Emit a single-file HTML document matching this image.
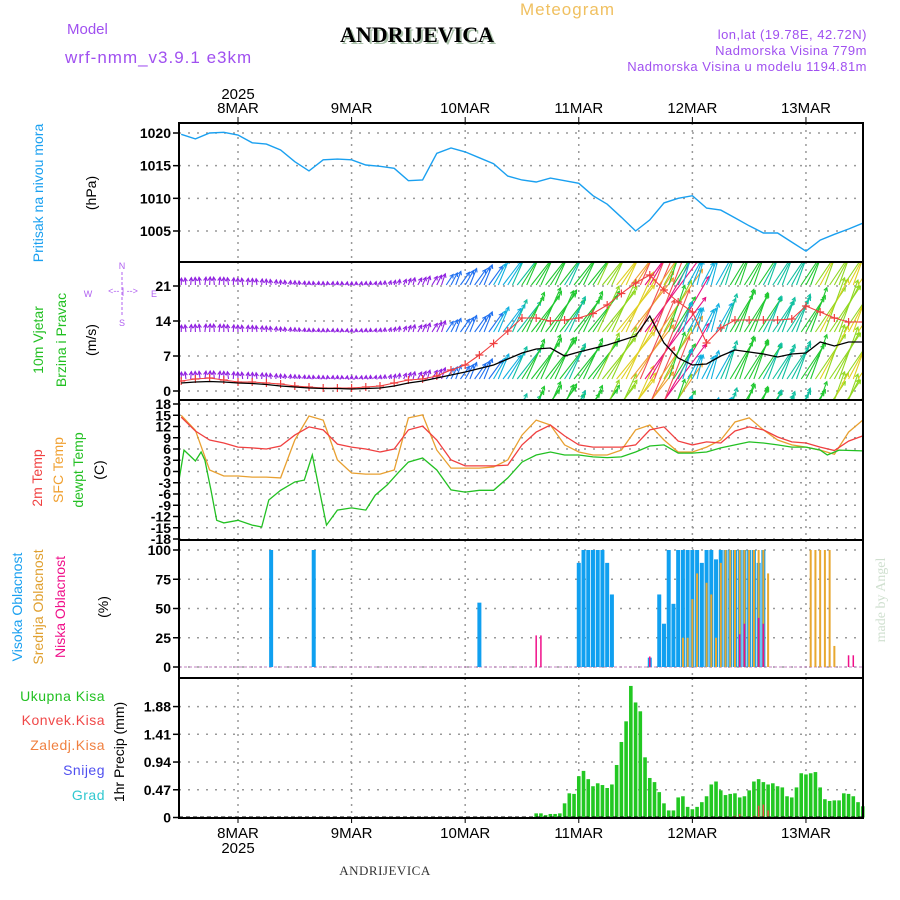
<!DOCTYPE html>
<html><head><meta charset="utf-8"><title>Meteogram ANDRIJEVICA</title>
<style>
html,body{margin:0;padding:0;background:#fff;}
svg{display:block;font-family:"Liberation Sans",sans-serif;}
</style></head>
<body>
<svg id="chart" width="900" height="900" viewBox="0 0 900 900" xmlns="http://www.w3.org/2000/svg">
<defs>
<clipPath id="clip2"><rect x="179" y="263" width="684" height="137"/></clipPath>
<clipPath id="clipAll"><rect x="179" y="123" width="684" height="695"/></clipPath>
</defs>
<!-- header -->
<text x="520" y="15" font-size="17" fill="#f0c060" letter-spacing="1">Meteogram</text>
<text x="67" y="34" font-size="15" fill="#a050f0">Model</text>
<text x="419" y="44" font-size="22" font-weight="bold" font-family="Liberation Serif,serif" fill="#a8c0a8" text-anchor="middle">ANDRIJEVICA</text>
<text x="417" y="42" font-size="22" font-weight="bold" font-family="Liberation Serif,serif" fill="#000" text-anchor="middle">ANDRIJEVICA</text>
<text x="65" y="63" font-size="17" fill="#a050f0" letter-spacing="1">wrf-nmm_v3.9.1 e3km</text>
<text x="867" y="39" font-size="13" fill="#a050f0" text-anchor="end" letter-spacing="0.5">lon,lat (19.78E, 42.72N)</text>
<text x="867" y="55" font-size="13" fill="#a050f0" text-anchor="end" letter-spacing="0.5">Nadmorska Visina 779m</text>
<text x="867" y="71" font-size="13" fill="#a050f0" text-anchor="end" letter-spacing="0.5">Nadmorska Visina u modelu 1194.81m</text>
<text x="238" y="99" font-size="15" text-anchor="middle">2025</text>
<!-- left labels -->
<text transform="translate(43,193) rotate(-90)" font-size="14" fill="#1aa0f0" text-anchor="middle">Pritisak na nivou mora</text>
<text transform="translate(96,193) rotate(-90)" font-size="14" text-anchor="middle">(hPa)</text>
<text transform="translate(43,340) rotate(-90)" font-size="14" fill="#22c022" text-anchor="middle">10m Vjetar</text>
<text transform="translate(66,340) rotate(-90)" font-size="14" fill="#22c022" text-anchor="middle">Brzina i Pravac</text>
<text transform="translate(96,340) rotate(-90)" font-size="14" text-anchor="middle">(m/s)</text>
<g fill="#b060f0" font-size="9" text-anchor="middle">
<text x="122" y="269">N</text><text x="122" y="326">S</text><text x="88" y="297">W</text><text x="154" y="297">E</text>
<text x="123" y="294" font-size="9">&lt;-- | --&gt;</text>
<line x1="122" y1="272" x2="122" y2="316" stroke="#b060f0" stroke-width="1" stroke-dasharray="3,2"/>
</g>
<text transform="translate(42,478) rotate(-90)" font-size="14" fill="#f04040" text-anchor="middle">2m Temp</text>
<text transform="translate(63,470) rotate(-90)" font-size="14" fill="#f0a030" text-anchor="middle">SFC Temp</text>
<text transform="translate(83,470) rotate(-90)" font-size="14" fill="#22c022" text-anchor="middle">dewpt Temp</text>
<text transform="translate(104,470) rotate(-90)" font-size="14" text-anchor="middle">(C)</text>
<text transform="translate(22,607) rotate(-90)" font-size="14" fill="#1aa0f0" text-anchor="middle">Visoka Oblacnost</text>
<text transform="translate(43,607) rotate(-90)" font-size="14" fill="#e0a030" text-anchor="middle">Srednja Oblacnost</text>
<text transform="translate(65,607) rotate(-90)" font-size="14" fill="#f0108a" text-anchor="middle">Niska Oblacnost</text>
<text transform="translate(108,607) rotate(-90)" font-size="14" text-anchor="middle">(%)</text>
<g font-size="14" text-anchor="end" letter-spacing="0.5">
<text x="105" y="701" fill="#22c022">Ukupna Kisa</text>
<text x="105" y="725" fill="#f04848">Konvek.Kisa</text>
<text x="105" y="750" fill="#f08040">Zaledj.Kisa</text>
<text x="105" y="775" fill="#5050f0">Snijeg</text>
<text x="105" y="800" fill="#30c8d0">Grad</text>
</g>
<text transform="translate(124,752) rotate(-90)" font-size="14" text-anchor="middle">1hr Precip (mm)</text>
<text transform="translate(885,600) rotate(-90)" font-size="14" fill="#d0e0d0" font-family="Liberation Serif,serif" text-anchor="middle">made by Angel</text>
<text x="385" y="875" font-size="13" fill="#333" font-family="Liberation Serif,serif" text-anchor="middle" letter-spacing="0.5">ANDRIJEVICA</text>
<text x="238" y="853" font-size="15" text-anchor="middle">2025</text>
<g id="grid"></g>
<g id="marks"></g>
<g id="frames"></g>
</svg>
<script>
// ===== data =====
const dayLabels = ["8MAR","9MAR","10MAR","11MAR","12MAR","13MAR"];
const lineHours = [-12,-9,-6,-3,0,3,6,9,12,15,18,21,24,27,30,33,36,39,42,45,48,51,54,57,60,63,66,69,72,75,78,81,84,87,90,93,96,99,102,105,108,111,114,117,120,123,126,129,132];
const pressure = [1019.8,1019.1,1020,1020.1,1019.7,1018.5,1018.3,1017.4,1015.6,1014.2,1015.9,1016,1015.9,1015.1,1014.9,1014.6,1012.7,1012.8,1016.9,1017.7,1017.1,1016.2,1015.3,1013.4,1012.8,1012.5,1013.1,1012.7,1012.3,1010.4,1009.1,1007.1,1005,1006.7,1009.3,1010,1010.4,1008.5,1008.2,1007,1005.8,1004.7,1004.7,1003.3,1001.9,1003.6,1004.5,1005.3,1006.2];
const temp2m = [14.5,10.8,8.4,7.6,6.5,6.3,6,6.8,9.7,11.9,11.1,7.3,6.5,6,5.2,6,11.1,12.1,8.4,3.1,1.5,1.5,1.5,1.7,7.1,10.5,12.4,9.5,7.1,6.5,6.5,6.5,7.1,11.1,11.9,8.1,7.1,7.9,7.6,10.8,11.9,11.1,9.2,7.9,7.6,6.5,5.6,8.1,9.5];
const tempSfc = [15,11,0.4,-1.2,-1.2,-1.5,-1.5,-1.7,8.4,14.8,13.7,3.1,-0.4,-0.7,-0.7,0.4,14.3,15.1,5.7,0.9,0.9,0.9,1.2,3.1,9.7,13.7,12.4,7.1,5.2,4.4,4.4,5.7,11.1,12.4,8.4,5.2,5.2,6.5,8.4,13.2,14.3,11.1,8.4,7.1,6.5,5.7,4.6,10.5,13.7];
const dewHours = [-12.7,-11.4,-9,-7.8,-7,-5.7,-4.5,-3,0,3,5,6.5,9,12,14,15.7,17.2,18.7,21,24,27,29,31.5,34,36,39,42,45,48,51,54,57,60,63,66,69,72,75,78,81,84,87,90,93,96,99,102,105,108,111,114,117,120,123,124.5,127,132];
const dewTemp = [-4.1,5.7,2.8,5.2,3,-5,-13,-13.7,-13,-14.3,-14.8,-7.6,-5,-2.8,-2.3,4.4,-5,-14.3,-10.3,-9.7,-10.3,-6.3,-3.6,-0.1,2.5,3.6,0.4,-4.9,-5.5,-5,-5,-1.7,2.5,4.4,5.2,4.4,4.4,3.9,3.7,3.9,5.2,6.8,7.1,4.9,4.9,5.2,6.3,7.1,7.9,7.6,7.1,6.5,6.5,5.7,4.4,5.7,5.5];
const windSpeed = [1.6,1.8,1.9,1.8,1.6,1.5,1.3,1.0,0.8,0.6,0.5,0.5,0.4,0.5,0.6,1.0,1.6,2.0,2.6,3.2,3.8,4.5,5.2,6.4,7.6,8.4,8.6,7.0,7.8,8.5,9.2,10.1,11,15,9.6,6.6,5.2,5.4,7,8.2,7.8,7.4,6.8,7.4,7.6,9.8,9,9.8,9.8];
const windGust = [2,2.4,2.6,2.2,1.8,1.8,1.6,1.4,1.0,0.8,0.6,0.6,0.6,0.8,1.0,1.6,2.2,2.4,3.0,4.2,5.2,7.2,9.5,12,14.6,14.6,14,14.2,14.6,15.5,17.2,19.5,21.6,23.2,20.2,17.8,15.8,9.6,12.6,14.2,14.2,14.2,14.2,14.4,17,15.8,14.6,13.8,13.8];
const windDir = [88,92,86,90,92,88,92,90,88,90,92,88,86,84,80,75,70,66,64,62,60,60,60,58,58,58,58,58,57,57,57,57,58,60,62,65,68,68,66,64,63,62,62,62,62,62,62,62,62];
const highHours = [7,16,51,72,73,74,75,76,77,78,79,87,89,90,91,92,93,94,95,96,97,98,99,100,101,102,103,104,105,106,107,108,109,110,111];
const highCloud = [100,100,55,89,100,100,100,100,100,89,62,8,62,37,100,54,100,100,100,100,100,89,100,100,92,100,100,100,100,100,100,100,100,89,100];
const midHours = [94,95,96,97,99,100,101,102,103,104,105,106,107,108,109,110,111,112,121,122,123,124,125,126];
const midCloud = [25,25,58,80,72,62,25,89,100,100,100,100,100,100,100,100,100,80,100,100,100,100,100,18];
const lowHours = [63,64,87,106,107,110,111,129,130];
const lowCloud = [27,27,9,28,37,42,37,10,10];
const precipStartHour = 63;
const precipTotal = [0.07,0.07,0.04,0.06,0.06,0.07,0.24,0.41,0.40,0.70,0.79,0.65,0.53,0.58,0.55,0.50,0.56,0.89,1.28,1.63,2.23,1.95,1.80,1.02,0.67,0.60,0.43,0.24,0.12,0.12,0.34,0.36,0.18,0.14,0.18,0.26,0.36,0.56,0.61,0.46,0.38,0.40,0.41,0.34,0.36,0.46,0.61,0.65,0.60,0.56,0.58,0.53,0.51,0.36,0.34,0.51,0.75,0.73,0.75,0.77,0.51,0.31,0.28,0.29,0.29,0.41,0.40,0.36,0.26,0.19];
const convHours = [105,106,109,110,111,112];
const convPrecip = [0.03,0.06,0.03,0.2,0.22,0.12];
const pTicks = [1005,1010,1015,1020];
const wTicks = [0,7,14,21];
const tTicks = [18,15,12,9,6,3,0,-3,-6,-9,-12,-15,-18];
const cTicks = [0,25,50,75,100];
const prTicks = [0,0.47,0.94,1.41,1.88];

// ===== axes =====
const X0 = 179, X1 = 863;
function xH(h){ return 238 + h*4.733; }
function yP(v){ return 133 + (1020 - v)*6.533; }
function yW(v){ return 391 - v*5; }
function yT(v){ return 471.5 - v*3.75; }
function yC(v){ return 667 - v*1.17; }
function yR(v){ return 817.5 - v*59; }
const NS = "http://www.w3.org/2000/svg";
const grid = document.getElementById('grid');
const marks = document.getElementById('marks');
const frames = document.getElementById('frames');
function mk(tag, attrs, parent){
  const e = document.createElementNS(NS, tag);
  for (const k in attrs) e.setAttribute(k, attrs[k]);
  parent.appendChild(e);
  return e;
}
const panels = [[123,262],[262,400],[400,540],[540,678],[678,818]];

dayLabels.forEach((d,i)=>{
  const x = xH(i*24);
  panels.forEach(p=>{
    const gl = mk('line',{x1:x,x2:x,y1:p[0],y2:p[1],stroke:'#999','stroke-width':1.5,'stroke-dasharray':'2,5'},grid);
    
    
  });
  const t1 = mk('text',{x:x,y:113,'font-size':15,'text-anchor':'middle'},grid);
  t1.textContent = d;
  
  
  const t2 = mk('text',{x:x,y:838,'font-size':15,'text-anchor':'middle'},grid);
  t2.textContent = d;
  
  
  mk('line',{x1:x,x2:x,y1:117,y2:123,stroke:'#000'},grid);
  mk('line',{x1:x,x2:x,y1:818,y2:823,stroke:'#000'},grid);
});
function yTicks(ticks, yf, fmt, name){
  ticks.forEach(v=>{
    const y = yf(v);
    const gl = mk('line',{x1:X0,x2:X1,y1:y,y2:y,stroke:'#999','stroke-width':1.5,'stroke-dasharray':'2,7'},grid);
    
    
    mk('line',{x1:X0-6,x2:X0,y1:y,y2:y,stroke:'#000','stroke-width':1.5},grid);
    const t = mk('text',{x:X0-8,y:y+5,'font-size':14,'font-weight':'bold','text-anchor':'end'},grid);
    t.textContent = fmt(v);
    
    
  });
}
yTicks(pTicks, yP, v=>String(v), 'pressure');
yTicks(wTicks, yW, v=>String(v), 'wind');
yTicks(tTicks, yT, v=>String(v), 'temp');
yTicks(cTicks, yC, v=>String(v), 'cloud');
yTicks(prTicks, yR, v=>v===0?'0':v.toFixed(2), 'precip');

function polyline(hs, vs, yf, color, name, width){
  const pts = hs.map((h,i)=>xH(h).toFixed(1)+','+yf(vs[i]).toFixed(1)).join(' ');
  const pl = mk('polyline',{points:pts,fill:'none',stroke:color,'stroke-width':width||1.3,'clip-path':'url(#clipAll)'},marks);
  
  
  return pl;
}
polyline(lineHours, pressure, yP, '#1aa0f0', 'pressure-line', 1.4);

function speedColor(s){
  if (s < 3) return '#9020e0';
  if (s < 5) return '#2070f0';
  if (s < 6.5) return '#10b0e0';
  if (s < 7.5) return '#10c0a0';
  if (s < 8.7) return '#20c830';
  if (s < 9.7) return '#90d820';
  if (s < 10.7) return '#e0d020';
  if (s < 12) return '#f0a030';
  if (s < 13.5) return '#f05050';
  return '#e81080';
}
const windG = mk('g',{'clip-path':'url(#clip2)'},marks);


const rowBases = [238,285,332,379,426];
for (let i=0;i<lineHours.length-1;i++){
  for (let k=0;k<3;k++){
    const f = k/3;
    const h = lineHours[i] + 3*f;
    const s = windSpeed[i]*(1-f) + windSpeed[i+1]*f;
    const d = (windDir[i]*(1-f) + windDir[i+1]*f + (k===1?8:(k===2?-6:0))) * Math.PI/180;
    const len = 2.5*s + 0.35*s*s + 2;
    const c = speedColor(s);
    const x = xH(h);
    rowBases.forEach(b=>{
      const x2 = x + len*Math.cos(d), y2 = b - len*Math.sin(d);
      const ln = mk('line',{x1:x,y1:b,x2:x2,y2:y2,stroke:c,'stroke-width':1.1},windG);
      
      
      const a1 = d + Math.PI - 0.5, a2 = d + Math.PI + 0.5;
      mk('polyline',{points:(x2+4*Math.cos(a1))+','+(y2-4*Math.sin(a1))+' '+x2+','+y2+' '+(x2+4*Math.cos(a2))+','+(y2-4*Math.sin(a2)),fill:'none',stroke:c,'stroke-width':1.1},windG);
    });
  }
}
polyline(lineHours, windGust, yW, '#f04040', 'wind-gust-line', 1.1);
lineHours.forEach((h,i)=>{
  const x = xH(h), y = yW(windGust[i]);
  const c = mk('path',{d:`M${x-4},${y}H${x+4}M${x},${y-4}V${y+4}`,stroke:'#f04040','stroke-width':1.2,'clip-path':'url(#clip2)'},marks);
  
  
});
polyline(lineHours, windSpeed, yW, '#000', 'wind-speed-line', 1.3);

polyline(lineHours, tempSfc, yT, '#e8a030', 'sfc-temp-line', 1.3);
polyline(lineHours, temp2m, yT, '#f04040', 'temp-2m-line', 1.3);
polyline(dewHours, dewTemp, yT, '#22c022', 'dewpoint-line', 1.3);

const cb = mk('line',{x1:X0,x2:X1,y1:yC(0),y2:yC(0),stroke:'#c080c0','stroke-width':1,'stroke-dasharray':'3,2'},marks);


function bars(hs, vs, yf, color, w, name){
  hs.forEach((h,i)=>{
    const x = xH(h), y = yf(vs[i]), y0 = yf(0);
    const r = mk('rect',{x:x-w/2,y:Math.min(y,y0),width:w,height:Math.abs(y0-y),fill:color},marks);
    
    
  });
}
bars(highHours, highCloud, yC, '#10a0f0', 4, 'high-cloud-bar');
bars(midHours, midCloud, yC, '#e8a830', 2, 'mid-cloud-bar');
bars(lowHours, lowCloud, yC, '#f0108a', 1.5, 'low-cloud-bar');

const prHours = precipTotal.map((v,i)=>precipStartHour+i);
bars(prHours, precipTotal, yR, '#22c822', 3.6, 'precip-bar');
bars(convHours, convPrecip, yR, '#f04848', 1.5, 'conv-precip-bar');
const pb = mk('line',{x1:X0,x2:X1,y1:817,y2:817,stroke:'#000','stroke-width':1,'stroke-dasharray':'4,3'},marks);



panels.forEach((p,i)=>{
  const r = mk('rect',{x:X0,y:p[0],width:X1-X0,height:p[1]-p[0],fill:'none',stroke:'#000','stroke-width':2},frames);
  
  
});
</script>
</body></html>
